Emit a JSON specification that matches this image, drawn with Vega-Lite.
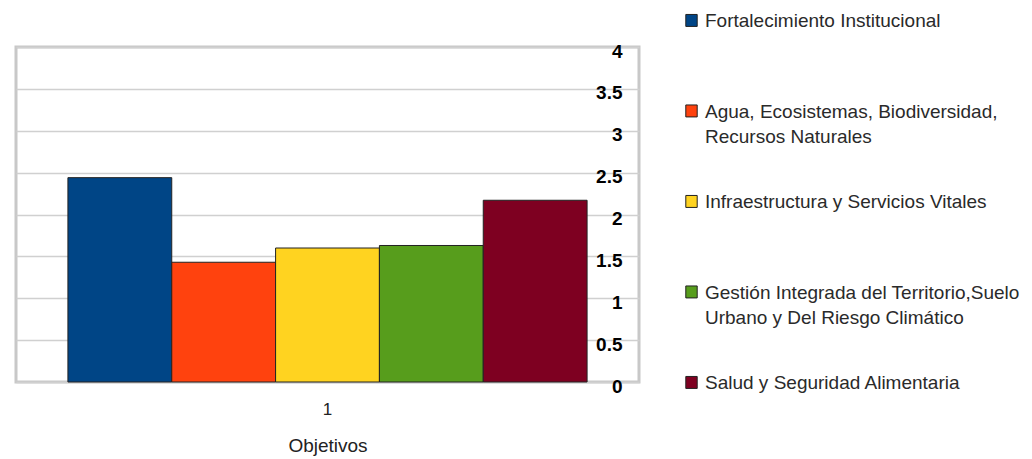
{
  "$schema": "https://vega.github.io/schema/vega-lite/v6.json",
  "autosize": {"type": "none"},
  "width": 623,
  "height": 335,
  "padding": {"left": 16, "top": 47, "right": 393, "bottom": 77},
  "background": "white",
  "config": {
    "font": "Liberation Sans",
    "view": {"stroke": "#c8c8c8", "strokeWidth": 3},
    "style": {"guide-label": {"lineHeight": 25.5}}
  },
  "data": {
    "values": [
      {"Objetivo": "1", "Eje": "Fortalecimiento Institucional", "Valor": 2.44},
      {"Objetivo": "1", "Eje": "Agua, Ecosistemas, Biodiversidad, Recursos Naturales", "Valor": 1.43},
      {"Objetivo": "1", "Eje": "Infraestructura y Servicios Vitales", "Valor": 1.6},
      {"Objetivo": "1", "Eje": "Gestión Integrada del Territorio,Suelo Urbano y Del Riesgo Climático", "Valor": 1.63},
      {"Objetivo": "1", "Eje": "Salud y Seguridad Alimentaria", "Valor": 2.17}
    ]
  },
  "mark": {"type": "bar", "stroke": "#222222", "strokeWidth": 1},
  "encoding": {
    "x": {
      "field": "Objetivo",
      "type": "nominal",
      "scale": {"paddingInner": 0, "paddingOuter": 0.1},
      "axis": {
        "title": "Objetivos",
        "labelAngle": 0,
        "domain": false,
        "ticks": false,
        "tickSize": 0,
        "labelFontSize": 17,
        "labelColor": "#222222",
        "labelPadding": 19,
        "titleFontSize": 19,
        "titleFontWeight": "normal",
        "titleColor": "#222222",
        "titlePadding": 19
      }
    },
    "xOffset": {
      "field": "Eje",
      "type": "nominal",
      "sort": null,
      "scale": {"paddingInner": 0, "paddingOuter": 0}
    },
    "y": {
      "field": "Valor",
      "type": "quantitative",
      "scale": {"domain": [0, 4], "nice": false},
      "axis": {
        "orient": "right",
        "title": null,
        "values": [0, 0.5, 1, 1.5, 2, 2.5, 3, 3.5, 4],
        "format": "~g",
        "domain": false,
        "ticks": false,
        "tickSize": 0,
        "grid": true,
        "gridColor": "#d0d0d0",
        "gridWidth": 1.5,
        "labelAlign": "right",
        "labelBaseline": "middle",
        "labelPadding": -17,
        "labelOffset": 4,
        "labelFontSize": 19,
        "labelFontWeight": "bold",
        "labelColor": "#000000",
        "labelOverlap": false,
        "labelFlush": false
      }
    },
    "color": {
      "field": "Eje",
      "type": "nominal",
      "sort": null,
      "scale": {
        "domain": [
          "Fortalecimiento Institucional",
          "Agua, Ecosistemas, Biodiversidad, Recursos Naturales",
          "Infraestructura y Servicios Vitales",
          "Gestión Integrada del Territorio,Suelo Urbano y Del Riesgo Climático",
          "Salud y Seguridad Alimentaria"
        ],
        "range": ["#004586", "#ff420e", "#ffd320", "#579d1c", "#7e0021"]
      },
      "legend": {
        "orient": "none",
        "legendX": 666,
        "legendY": -50,
        "padding": 0,
        "title": null,
        "clipHeight": 60,
        "rowPadding": 30.5,
        "symbolType": "M-1,-2.2H1V-0.1H-1Z",
        "symbolSize": 130,
        "symbolStrokeColor": "#222222",
        "symbolStrokeWidth": 1,
        "labelOffset": 4,
        "labelBaseline": "alphabetic",
        "labelFontSize": 19,
        "labelColor": "#2a2a2a",
        "labelLimit": 400,
        "labelExpr": "datum.label == 'Agua, Ecosistemas, Biodiversidad, Recursos Naturales' ? ['Agua, Ecosistemas, Biodiversidad,', 'Recursos Naturales'] : datum.label == 'Gestión Integrada del Territorio,Suelo Urbano y Del Riesgo Climático' ? ['Gestión Integrada del Territorio,Suelo', 'Urbano y Del Riesgo Climático'] : datum.label"
      }
    }
  }
}
